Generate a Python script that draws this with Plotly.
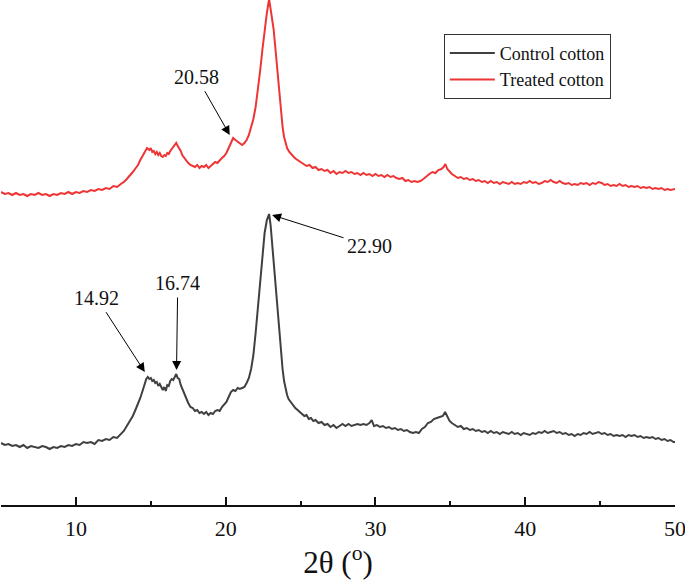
import plotly.graph_objects as go

# ---- data (arbitrary intensity units) ----
control_pts = [
    (5.0, 62), (5.25, 60), (5.5, 61), (5.75, 59), (6.0, 60), (6.25, 58), (6.5, 60), (6.75, 57),
    (7.0, 59), (7.25, 58), (7.5, 57), (7.75, 59), (8.0, 58), (8.25, 56), (8.5, 58), (8.75, 57),
    (9.0, 59), (9.25, 58), (9.5, 60), (9.75, 59), (10.0, 61), (10.25, 60), (10.5, 63), (10.75, 62),
    (11.0, 63), (11.25, 61), (11.5, 65), (11.75, 64), (12.0, 66), (12.25, 65), (12.5, 68), (12.75, 67),
    (13.0, 71), (13.2, 74), (13.4, 79), (13.6, 84), (13.8, 89), (14.0, 96), (14.15, 101), (14.3, 107),
    (14.45, 114), (14.6, 121), (14.7, 126), (14.8, 128), (14.9, 126), (15.0, 127), (15.1, 124),
    (15.2, 125), (15.3, 122), (15.4, 123), (15.5, 119), (15.6, 121), (15.7, 117), (15.8, 115),
    (15.9, 118), (16.0, 114), (16.1, 120), (16.2, 119), (16.3, 124), (16.4, 126), (16.5, 125),
    (16.6, 129), (16.7, 131), (16.8, 127), (16.9, 126), (17.0, 120), (17.1, 116), (17.2, 112),
    (17.35, 106), (17.5, 102), (17.65, 98), (17.8, 97), (17.95, 94), (18.1, 95), (18.25, 92),
    (18.4, 93), (18.55, 91), (18.7, 93), (18.85, 90), (19.0, 92), (19.15, 91), (19.3, 94),
    (19.45, 95), (19.6, 94), (19.75, 98), (19.9, 101), (20.05, 103), (20.2, 108), (20.35, 113),
    (20.5, 115), (20.65, 114), (20.8, 117), (20.95, 116), (21.1, 117), (21.25, 118), (21.4, 122),
    (21.55, 127), (21.7, 136), (21.85, 150), (22.0, 172), (22.15, 198), (22.3, 228), (22.45, 253),
    (22.6, 272), (22.75, 285), (22.9, 291), (23.0, 280), (23.1, 262), (23.2, 240), (23.3, 220),
    (23.4, 200), (23.5, 182), (23.6, 165), (23.7, 150), (23.8, 136), (23.9, 124), (24.0, 116),
    (24.1, 110), (24.2, 106), (24.35, 103), (24.5, 99), (24.65, 97), (24.8, 95), (24.95, 93),
    (25.1, 91), (25.25, 89), (25.4, 90), (25.55, 86), (25.7, 87), (25.85, 84), (26.0, 85),
    (26.2, 82), (26.4, 83), (26.6, 80), (26.8, 81), (27.0, 78), (27.2, 80), (27.4, 77), (27.6, 79),
    (27.8, 81), (28.0, 79), (28.2, 81), (28.4, 79), (28.6, 80), (28.8, 81), (29.0, 80), (29.2, 81),
    (29.4, 80), (29.6, 82), (29.75, 85), (29.9, 79), (30.1, 80), (30.3, 78), (30.5, 79), (30.7, 77),
    (30.9, 78), (31.1, 76), (31.3, 77), (31.5, 75), (31.7, 76), (31.9, 74), (32.1, 75), (32.3, 73),
    (32.5, 72), (32.7, 73), (32.9, 72), (33.1, 76), (33.3, 78), (33.5, 82), (33.7, 83), (33.9, 86),
    (34.1, 87), (34.3, 88), (34.5, 89), (34.65, 93), (34.8, 88), (34.95, 84), (35.1, 82), (35.3, 80),
    (35.5, 78), (35.7, 79), (35.9, 76), (36.1, 77), (36.3, 75), (36.5, 76), (36.7, 74), (36.9, 75),
    (37.1, 73), (37.3, 74), (37.5, 72), (37.7, 74), (37.9, 72), (38.1, 73), (38.3, 71), (38.5, 73),
    (38.7, 72), (38.9, 71), (39.1, 73), (39.3, 71), (39.5, 72), (39.7, 70), (39.9, 72), (40.1, 71),
    (40.3, 70), (40.5, 72), (40.7, 71), (40.9, 73), (41.1, 72), (41.3, 74), (41.5, 72), (41.7, 73),
    (41.9, 74), (42.1, 72), (42.3, 73), (42.5, 71), (42.7, 72), (42.9, 70), (43.1, 71), (43.3, 69),
    (43.5, 71), (43.7, 70), (43.9, 72), (44.1, 71), (44.3, 73), (44.5, 71), (44.7, 72), (44.9, 73),
    (45.1, 71), (45.3, 72), (45.5, 70), (45.7, 71), (45.9, 69), (46.1, 70), (46.3, 69), (46.5, 70),
    (46.7, 68), (46.9, 70), (47.1, 69), (47.3, 70), (47.5, 68), (47.7, 69), (47.9, 67), (48.1, 68),
    (48.3, 67), (48.5, 68), (48.7, 66), (48.9, 67), (49.1, 65), (49.3, 66), (49.5, 64), (49.7, 65),
    (49.9, 63), (50.0, 63),
]

treated_pts = [
    (5.0, 313), (5.25, 311), (5.5, 312), (5.75, 310), (6.0, 312), (6.25, 310), (6.5, 311), (6.75, 309),
    (7.0, 311), (7.25, 310), (7.5, 312), (7.75, 310), (8.0, 311), (8.25, 309), (8.5, 311), (8.75, 310),
    (9.0, 312), (9.25, 311), (9.5, 313), (9.75, 311), (10.0, 313), (10.25, 312), (10.5, 314),
    (10.75, 313), (11.0, 315), (11.25, 314), (11.5, 316), (11.75, 315), (12.0, 317), (12.25, 316),
    (12.5, 319), (12.75, 318), (13.0, 321), (13.2, 323), (13.4, 326), (13.6, 329), (13.8, 333),
    (14.0, 337), (14.15, 340), (14.3, 345), (14.45, 349), (14.6, 353), (14.75, 357), (14.9, 355),
    (15.0, 357), (15.1, 353), (15.2, 354), (15.3, 351), (15.4, 353), (15.5, 350), (15.6, 352),
    (15.7, 349), (15.8, 348), (15.9, 350), (16.0, 349), (16.1, 352), (16.2, 351), (16.3, 354),
    (16.4, 356), (16.5, 358), (16.6, 361), (16.7, 362), (16.8, 359), (16.9, 357), (17.0, 354),
    (17.1, 350), (17.2, 348), (17.35, 344), (17.5, 342), (17.65, 340), (17.8, 339), (17.95, 338),
    (18.1, 340), (18.25, 337), (18.4, 339), (18.55, 338), (18.7, 340), (18.85, 337), (19.0, 339),
    (19.15, 341), (19.3, 343), (19.45, 342), (19.6, 345), (19.75, 347), (19.9, 349), (20.05, 352),
    (20.2, 357), (20.35, 363), (20.5, 367), (20.65, 365), (20.8, 363), (20.95, 362), (21.1, 360),
    (21.25, 362), (21.4, 365), (21.55, 370), (21.7, 377), (21.85, 386), (22.0, 398), (22.15, 414),
    (22.3, 434), (22.45, 455), (22.6, 475), (22.75, 492), (22.9, 506), (23.0, 497), (23.1, 488),
    (23.2, 476), (23.3, 460), (23.4, 442), (23.5, 423), (23.6, 405), (23.7, 390), (23.8, 378),
    (23.9, 368), (24.0, 361), (24.1, 357), (24.25, 353), (24.4, 350), (24.55, 348), (24.7, 346),
    (24.85, 344), (25.0, 343), (25.2, 341), (25.4, 339), (25.6, 340), (25.8, 337), (26.0, 338),
    (26.2, 335), (26.4, 336), (26.6, 334), (26.8, 335), (27.0, 332), (27.2, 334), (27.4, 331),
    (27.6, 333), (27.8, 332), (28.0, 334), (28.2, 332), (28.4, 333), (28.6, 331), (28.8, 332),
    (29.0, 330), (29.2, 332), (29.4, 330), (29.6, 331), (29.8, 329), (30.0, 331), (30.2, 329),
    (30.4, 330), (30.6, 328), (30.8, 330), (31.0, 328), (31.2, 329), (31.4, 327), (31.6, 326),
    (31.8, 327), (32.0, 324), (32.2, 325), (32.4, 323), (32.6, 324), (32.8, 323), (33.0, 324),
    (33.2, 326), (33.4, 329), (33.6, 331), (33.8, 333), (34.0, 332), (34.2, 335), (34.4, 336),
    (34.55, 338), (34.67, 341), (34.8, 336), (34.95, 333), (35.1, 331), (35.3, 329), (35.5, 327),
    (35.7, 328), (35.9, 326), (36.1, 327), (36.3, 325), (36.5, 326), (36.7, 324), (36.9, 325),
    (37.1, 323), (37.3, 324), (37.5, 322), (37.7, 324), (37.9, 322), (38.1, 323), (38.3, 321),
    (38.5, 323), (38.7, 322), (38.9, 321), (39.1, 323), (39.3, 321), (39.5, 322), (39.7, 321),
    (39.9, 323), (40.1, 322), (40.3, 324), (40.5, 322), (40.7, 323), (40.9, 321), (41.1, 322),
    (41.3, 324), (41.5, 323), (41.7, 325), (41.9, 323), (42.1, 322), (42.3, 324), (42.5, 322),
    (42.7, 321), (42.9, 322), (43.1, 320), (43.3, 321), (43.5, 320), (43.7, 322), (43.9, 321),
    (44.1, 322), (44.3, 320), (44.5, 322), (44.7, 321), (44.9, 323), (45.1, 322), (45.3, 320),
    (45.5, 321), (45.7, 319), (45.9, 320), (46.1, 319), (46.3, 321), (46.5, 319), (46.7, 320),
    (46.9, 318), (47.1, 319), (47.3, 318), (47.5, 319), (47.7, 317), (47.9, 318), (48.1, 317),
    (48.3, 318), (48.5, 316), (48.7, 317), (48.9, 316), (49.1, 317), (49.3, 315), (49.5, 316),
    (49.7, 315), (50.0, 316),
]

series_names = ["Control cotton", "Treated cotton"]
tick_values = [10, 20, 30, 40, 50]

# peak labels: (text, head x, head y, text x, text y)
peak_labels = [
    ("20.58", 20.27, 370, 18.07, 428),
    ("14.92", 14.6, 133, 11.4, 207),
    ("16.74", 16.72, 135, 16.8, 222),
    ("22.90", 23.1, 290, 29.6, 259),
]

FONT = "Liberation Serif"

cx = [p[0] for p in control_pts]
cy = [p[1] for p in control_pts]
tx = [p[0] for p in treated_pts]
ty = [p[1] for p in treated_pts]

fig = go.Figure()
fig.add_trace(go.Scatter(x=cx, y=cy, mode="lines", name=series_names[0],
                         line=dict(color="#404040", width=2)))
fig.add_trace(go.Scatter(x=tx, y=ty, mode="lines", name=series_names[1],
                         line=dict(color="#ee3535", width=2)))

for text, hx, hy, ax, ay in peak_labels:
    fig.add_annotation(x=hx, y=hy, ax=ax, ay=ay, xref="x", yref="y", axref="x", ayref="y",
                       text=text, showarrow=True, arrowhead=2, arrowsize=1.8, arrowwidth=1,
                       arrowcolor="black", standoff=0, startstandoff=2,
                       font=dict(family=FONT, size=20, color="#111"))

fig.update_layout(
    width=685, height=583,
    margin=dict(l=1, r=10, t=0, b=78, autoexpand=False),
    paper_bgcolor="white", plot_bgcolor="white",
    font=dict(family=FONT, color="#111"),
    showlegend=True,
    legend=dict(x=0.657, y=0.933, xanchor="left", yanchor="top",
                bordercolor="#333", borderwidth=1, bgcolor="white",
                font=dict(family=FONT, size=18, color="#111"),
                itemwidth=45, tracegroupgap=0),
    xaxis=dict(range=[5, 50], tickvals=tick_values, showline=True, linecolor="#111",
               linewidth=1.5, ticks="inside", ticklen=8, tickwidth=1.5, tickcolor="#111",
               minor=dict(dtick=5, ticks="inside", ticklen=4, tickwidth=1.5, tickcolor="#111"),
               showgrid=False, zeroline=False, ticklabelstandoff=3, automargin=False,
               ticklabeloverflow="allow",
               tickfont=dict(family=FONT, size=22, color="#111"),
               title=dict(text="2θ (<sup>o</sup>)", font=dict(family=FONT, size=31, color="#111"),
                          standoff=2)),
    yaxis=dict(range=[0, 505], visible=False, automargin=False),
)

fig.write_html("out.html", config={"displayModeBar": False},
               post_script="document.body.style.margin='0';")
